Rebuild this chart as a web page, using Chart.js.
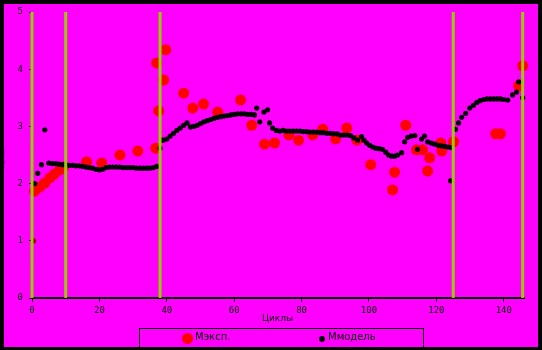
<!DOCTYPE html>
<html>
<head>
<meta charset="utf-8">
<script src="https://cdn.jsdelivr.net/npm/chart.js@4.4.1/dist/chart.umd.min.js"></script>
<style>
  html, body { margin: 0; padding: 0; background: #000; }
  #frame { position: absolute; left: 0; top: 0; width: 542px; height: 350px; background: #000; }
  #inner { position: absolute; left: 4px; top: 4px; width: 534px; height: 343px; background: #FF00FF; overflow: hidden; }
  #chartBox { position: absolute; left: -4px; top: -4px; width: 542px; height: 350px; }
  .txt { position: absolute; font-family: "DejaVu Sans", sans-serif; font-size: 9px; color: #000; white-space: nowrap; }
  #legend { position: absolute; left: 135px; top: 324px; width: 283px; height: 30px; border: 1px solid #000; }
  #legend .txt { font-size: 10px; }
  .dot { position: absolute; border-radius: 50%; }
</style>
</head>
<body>
<div id="frame">
  <div id="inner">
    <div id="chartBox"><canvas id="myChart" width="542" height="350"></canvas></div>
    <div class="txt" style="left:258px; top:309px;">Циклы</div>
    <div class="txt" style="left:-12px; top:150px; transform: rotate(-90deg); font-size:7px;">М, мм</div>
    <div id="legend">
      <div class="dot" style="left:42px; top:4px; width:11px; height:11px; background:#FF0000;"></div>
      <div class="txt" style="left:55px; top:2px;">Мэксп.</div>
      <div class="dot" style="left:179px; top:7px; width:6px; height:6px; background:#000;"></div>
      <div class="txt" style="left:188px; top:2px;">Ммодель</div>
    </div>
  </div>
</div>
<script>
// experimental points
var expCycles = [0.8, 2.3, 3.8, 5.3, 6.7, 8.2, 9.4, 16.2, 20.7, 26.1, 31.4, 36.7, 37.6, 37.0, 39.1, 39.7,
  45.0, 47.7, 50.9, 55.1, 61.9, 65.2, 69.0, 72.0, 76.2, 79.1, 83.3, 86.3, 90.1, 93.4, 96.4, 100.5,
  107.0, 107.6, 110.9, 114.1, 115.9, 117.4, 118.0, 121.3, 121.6, 125.1, 137.6, 139.0, 144.4, 145.6];
var expM = [1.87, 1.94, 2.01, 2.10, 2.17, 2.24, 2.29, 2.38, 2.36, 2.50, 2.57, 2.62, 3.27, 4.11, 3.81, 4.34,
  3.58, 3.32, 3.39, 3.25, 3.46, 3.02, 2.69, 2.71, 2.85, 2.76, 2.85, 2.95, 2.78, 2.97, 2.76, 2.33,
  1.89, 2.20, 3.02, 2.59, 2.59, 2.22, 2.45, 2.71, 2.57, 2.73, 2.87, 2.87, 3.71, 4.06];

// model points
var modelCycles = [0.5, 0.8, 1.7, 2.8, 3.8, 5, 6, 7, 8, 9, 10, 11, 12, 13, 14, 15, 16, 17, 18, 19, 20, 21, 22,
  23, 24, 25, 26, 27, 28, 29, 30, 31, 32, 33, 34, 35, 36, 37, 38, 38.5, 39, 40, 41, 42, 43, 44, 45, 46, 47,
  48, 49, 50, 51, 52, 53, 54, 55, 56, 57, 58, 59, 60, 61, 62, 63, 64, 65, 66, 66.7, 67.6, 68.8, 69.9, 70.5,
  71.4, 72.5, 73.5, 74.5, 75.5, 76.5, 77.5, 78.5, 79.5, 80.5, 81.5, 82.5, 83.5, 84.5, 85.5, 86.5, 87.5, 88.5,
  89.5, 90.5, 91.5, 92.5, 93.5, 94.5, 95.5, 96.6, 97.8, 98.5, 99.3, 100.2, 101.1, 102, 103, 104, 105,
  105.8, 106.7, 107.6, 108.5, 109.7, 110.6, 111.5, 112.5, 113.6, 114.4, 115.6, 116.5, 117.4, 118.5,
  119.5, 120.5, 121.5, 122.5, 123.5, 124.2, 124.5, 125.7, 126.6, 127.5, 128.7, 129.9, 131, 132, 133,
  134, 135, 136, 137, 138, 139, 140, 141.2, 142.6, 143.8, 144.4, 145.6];
var modelM = [1.00, 2.00, 2.18, 2.33, 2.94, 2.36, 2.35, 2.35, 2.34, 2.33, 2.33, 2.32, 2.32, 2.31, 2.31, 2.30, 2.29, 2.28, 2.27, 2.25, 2.24, 2.25, 2.28,
  2.29, 2.29, 2.29, 2.29, 2.28, 2.28, 2.28, 2.28, 2.27, 2.27, 2.27, 2.27, 2.27, 2.28, 2.30, 2.62, 2.76, 2.76, 2.78, 2.83, 2.88, 2.93, 2.97, 3.02, 3.06, 2.99,
  3.00, 3.02, 3.05, 3.08, 3.10, 3.12, 3.14, 3.16, 3.17, 3.18, 3.19, 3.20, 3.21, 3.22, 3.22, 3.22, 3.21, 3.21, 3.20, 3.32, 3.08, 3.25, 3.29, 3.06,
  2.97, 2.93, 2.92, 2.93, 2.92, 2.92, 2.92, 2.92, 2.92, 2.91, 2.91, 2.90, 2.90, 2.90, 2.89, 2.89, 2.88, 2.88,
  2.87, 2.87, 2.85, 2.85, 2.85, 2.84, 2.80, 2.76, 2.82, 2.76, 2.71, 2.67, 2.64, 2.62, 2.61, 2.60, 2.55,
  2.50, 2.48, 2.48, 2.50, 2.54, 2.73, 2.81, 2.83, 2.84, 2.60, 2.78, 2.83, 2.73, 2.71,
  2.69, 2.67, 2.66, 2.65, 2.64, 2.05, 2.63, 2.95, 3.06, 3.16, 3.23, 3.32, 3.37, 3.42, 3.45,
  3.47, 3.48, 3.48, 3.48, 3.48, 3.48, 3.47, 3.46, 3.55, 3.60, 3.78, 3.50];

// stage boundaries (vertical green lines)
var stageCycles = [0, 10, 38, 125, 145.6];

var xTicks = [0, 20, 40, 60, 80, 100, 120, 140];

function toPoints(xs, ys) {
  var pts = [];
  for (var i = 0; i < xs.length; i++) pts.push({ x: xs[i], y: ys[i] });
  return pts;
}

var datasets = [];

stageCycles.forEach(function (c) {
  datasets.push({
    type: 'line',
    data: [{ x: c, y: 0 }, { x: c, y: 5 }],
    borderColor: '#99CC00',
    borderWidth: 3,
    pointRadius: 0,
    clip: false,
    order: 0
  });
});

datasets.push({
  type: 'scatter',
  label: 'Ммодель',
  data: toPoints(modelCycles, modelM),
  backgroundColor: modelM.map(function (v, i) { return i === 0 ? '#8B0000' : '#000000'; }),
  borderWidth: 0,
  pointRadius: 2.6,
  clip: false,
  order: 1
});

datasets.push({
  type: 'scatter',
  label: 'Мэксп.',
  data: toPoints(expCycles, expM),
  backgroundColor: '#FF0000',
  borderWidth: 0,
  pointRadius: 5.5,
  clip: false,
  order: 2
});

var tickFont = { family: 'DejaVu Sans Mono', size: 9 };

var ctx = document.getElementById('myChart').getContext('2d');
var chart = new Chart(ctx, {
  type: 'scatter',
  data: { datasets: datasets },
  options: {
    responsive: false,
    animation: false,
    layout: { padding: { left: 0, right: 18, top: 12, bottom: 0 } },
    plugins: { legend: { display: false }, tooltip: { enabled: false } },
    scales: {
      x: {
        type: 'linear',
        min: 0,
        max: 146,
        afterFit: function (s) { s.height = 52; },
        afterBuildTicks: function (s) { s.ticks = xTicks.map(function (v) { return { value: v }; }); },
        ticks: { font: tickFont, color: '#000', padding: 3, maxRotation: 0 },
        grid: { drawOnChartArea: false, drawTicks: true, tickLength: 4, color: '#000' },
        border: { display: true, color: '#000', width: 2 }
      },
      y: {
        type: 'linear',
        min: 0,
        max: 5,
        afterFit: function (s) { s.width = 32; },
        ticks: { stepSize: 1, font: tickFont, color: '#000', padding: 6 },
        grid: { drawOnChartArea: false, drawTicks: true, tickLength: 3, color: '#000' },
        border: { display: true, color: '#000', width: 1 }
      }
    }
  }
});
</script>
</body>
</html>
